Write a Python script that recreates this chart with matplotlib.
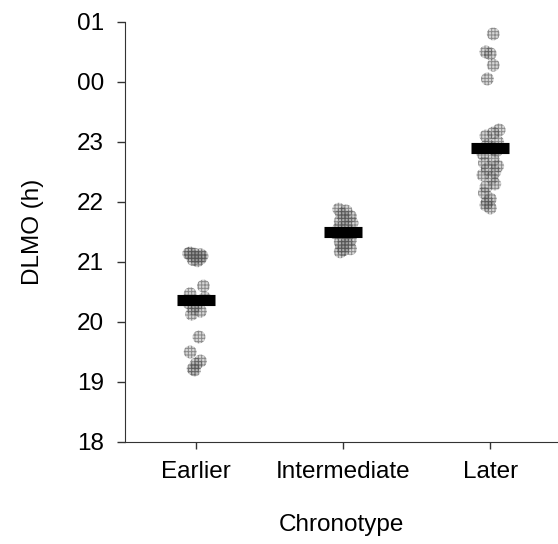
import matplotlib
matplotlib.use("Agg")
import matplotlib.pyplot as plt

plt.rcParams["font.family"] = ["Liberation Sans", "DejaVu Sans"]
plt.rcParams["hatch.linewidth"] = 0.7

groups = ["Earlier", "Intermediate", "Later"]

# DLMO in clock hours (values past midnight given as 24+)
earlier = [21.15, 21.13, 21.12, 21.1, 21.08, 21.06, 21.04, 21.02, 21.1, 21.14,
           20.6, 20.47, 20.4, 20.32, 20.27, 20.22, 20.18, 20.13,
           19.75, 19.5, 19.35, 19.3, 19.22, 19.2]
earlier_dx = [-0.04, -0.01, 0.03, -0.03, 0.0, 0.03, -0.02, 0.01, 0.04, -0.05,
              0.05, -0.04, 0.06, -0.05, 0.0, -0.02, 0.03, -0.03,
              0.02, -0.04, 0.03, 0.0, -0.02, -0.01]

intermediate = [21.88, 21.85, 21.8, 21.76, 21.72, 21.68, 21.65, 21.6, 21.56, 21.52,
                21.48, 21.44, 21.4, 21.37, 21.33, 21.3, 21.26, 21.22, 21.2, 21.17]
intermediate_dx = [-0.03, 0.02, -0.01, 0.05, 0.01, -0.02, 0.06, 0.02, -0.03, 0.04,
                   -0.05, 0.03, 0.0, 0.05, -0.02, 0.03, -0.01, 0.05, 0.0, -0.02]

later = [24.8, 24.5, 24.47, 24.28, 24.05,
         23.2, 23.15, 23.1, 23.0, 22.95, 22.9, 22.85, 22.8, 22.7, 22.65, 22.6,
         22.55, 22.5, 22.45, 22.4, 22.3, 22.25, 22.15, 22.05, 22.0, 21.95, 21.9]
later_dx = [0.02, -0.03, 0.0, 0.02, -0.02,
            0.06, 0.02, -0.03, 0.05, -0.02, 0.01, 0.04, -0.05, 0.02, -0.04, 0.05,
            -0.02, 0.03, -0.05, 0.01, 0.03, -0.03, -0.04, 0.0, -0.02, -0.03, 0.0]

means = [20.37, 21.5, 22.9]

ytick_vals = [18, 19, 20, 21, 22, 23, 24, 25]
ytick_labels = ["18", "19", "20", "21", "22", "23", "00", "01"]

fig = plt.figure(figsize=(5.58, 5.44), dpi=100)
ax = fig.add_axes([0.224, 0.1875, 0.776, 0.7721])

for i, (vals, dx) in enumerate([(earlier, earlier_dx),
                                (intermediate, intermediate_dx),
                                (later, later_dx)]):
    ax.scatter([i + d for d in dx], vals, s=85, marker="o",
               facecolor=(0.55, 0.55, 0.55, 0.35), edgecolor=(0.25, 0.25, 0.25, 0.5),
               linewidth=0, hatch="+++++", zorder=2)

ax.hlines(means, [i - 0.13 for i in range(3)], [i + 0.13 for i in range(3)],
          color="black", linewidth=8, zorder=3)

ax.set_xlim(-0.483, 2.46)
ax.set_ylim(18, 25)
ax.set_xticks(range(3))
ax.set_xticklabels(groups)
ax.set_yticks(ytick_vals)
ax.set_yticklabels(ytick_labels)
ax.tick_params(axis="both", labelsize=17.5, color="#333333", width=1)
ax.tick_params(axis="y", length=6, pad=9)
ax.tick_params(axis="x", length=5, pad=9)
for side in ["top", "right"]:
    ax.spines[side].set_visible(False)
for side in ["left", "bottom"]:
    ax.spines[side].set_color("#333333")
ax.set_xlabel("Chronotype", fontsize=17.5, labelpad=22)
ax.set_ylabel("DLMO (h)", fontsize=17.5, labelpad=24)

fig.savefig("out.png", dpi=100)
